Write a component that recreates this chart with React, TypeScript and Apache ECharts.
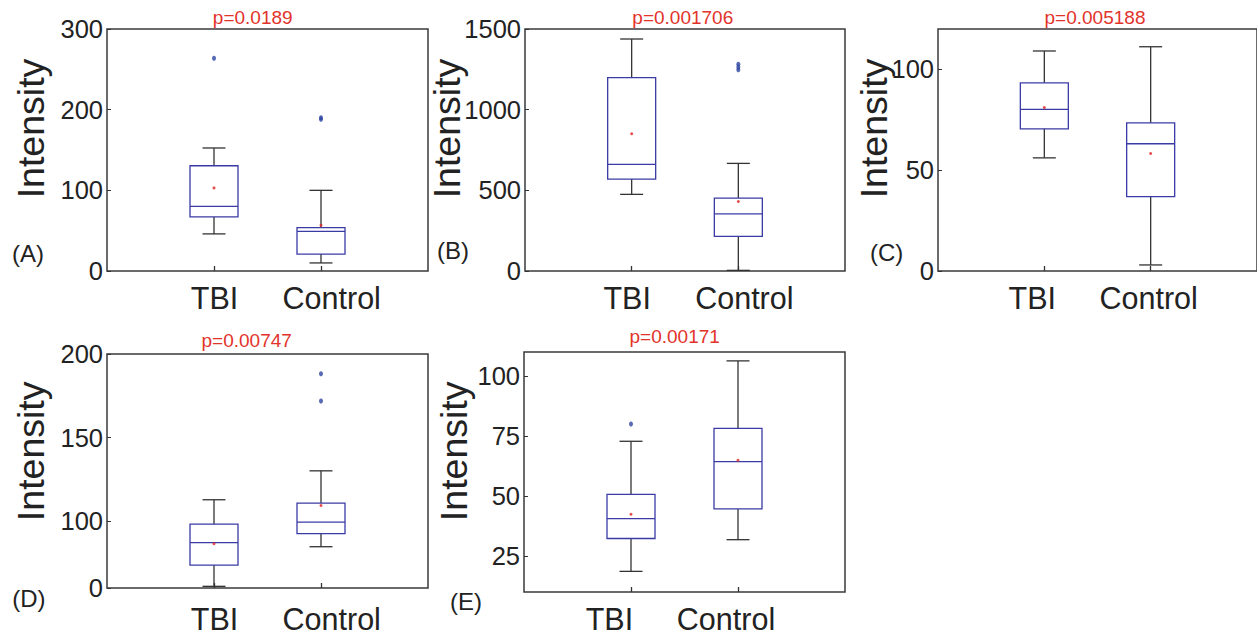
import React, { useEffect, useRef } from "react";
import * as echarts from "echarts";

const categories = ["TBI", "Control"];

// [lower whisker, Q1, median, Q3, upper whisker]
const boxA = [[46, 67, 80, 130.5, 152.5], [10, 21, 49, 53.7, 100]];
const meanA = [103, 56.6];
const outliersA = [["TBI", 263.7], ["Control", 190], ["Control", 188]];
const yTicksA = [0, 100, 200, 300];

const boxB = [[475, 570, 661, 1199, 1438], [4, 214, 354, 452, 667]];
const meanB = [851, 431];
const outliersB = [["Control", 1282], ["Control", 1264], ["Control", 1247]];
const yTicksB = [0, 500, 1000, 1500];

const boxC = [[56.1, 70.5, 80.1, 93.3, 109.1], [3, 36.9, 63.1, 73.5, 111.2]];
const meanC = [81.1, 58.3];
const outliersC: (string | number)[][] = [];
const yTicksC = [0, 50, 100];

const boxD = [[61, 73.7, 87.1, 98.2, 112.8], [84.7, 92.5, 99.4, 110.8, 130.1]];
const meanD = [86.5, 109.4];
const outliersD = [["Control", 188.2], ["Control", 171.9]];
const yTicksD = [60, 100, 150, 200];
const yTickLabelsD = ["0", "100", "150", "200"];

const boxE = [[18.6, 32.3, 40.6, 50.7, 72.8], [31.8, 44.6, 64.3, 78.2, 106.3]];
const meanE = [42.4, 64.9];
const outliersE = [["TBI", 80]];
const yTicksE = [25, 50, 75, 100];

const pValues = ["p=0.0189", "p=0.001706", "p=0.005188", "p=0.00747", "p=0.00171"];
const panelLetters = ["(A)", "(B)", "(C)", "(D)", "(E)"];
const yTitle = "Intensity";

const FONT = "'Liberation Sans', Arial, Helvetica, sans-serif";
const BOX_COLOR = "#3b3ba6";
const WHISKER_COLOR = "#333333";
const OUTLIER_COLOR = "#2d45a0";
const MEAN_COLOR = "#e02424";
const P_COLOR = "#e2332b";

const panels = [
  { box: boxA, mean: meanA, out: outliersA, ticks: yTicksA, labels: yTicksA.map(String), min: 0, max: 300 },
  { box: boxB, mean: meanB, out: outliersB, ticks: yTicksB, labels: yTicksB.map(String), min: 0, max: 1500 },
  { box: boxC, mean: meanC, out: outliersC, ticks: yTicksC, labels: yTicksC.map(String), min: 0, max: 120 },
  { box: boxD, mean: meanD, out: outliersD, ticks: yTicksD, labels: yTickLabelsD, min: 60, max: 200 },
  { box: boxE, mean: meanE, out: outliersE, ticks: yTicksE, labels: yTicksE.map(String), min: 10, max: 110 },
];

const grids = [
  { left: 107, top: 29, width: 321, height: 242 },
  { left: 525, top: 29, width: 320, height: 242 },
  { left: 938, top: 29, width: 320, height: 242 },
  { left: 107, top: 354, width: 321, height: 234 },
  { left: 524, top: 352, width: 321, height: 240 },
];
const xLabelMargins = [11, 11, 11, 15, 11];
// horizontal shift of each category label relative to its tick (px)
const xLabelShift = [[0.5, 10.7], [-4.5, 6], [-12, -2], [0.5, 10.7], [-21.6, -12]];
const pPos = [[252.7, 17], [682.8, 17], [1095, 17], [246.7, 340], [674.7, 336.7]];
const letterPos = [[28, 253], [453, 250], [886.7, 252], [28.8, 598], [466, 601]];
const titlePos = [[30.8, 128.5], [446.8, 128.5], [873.5, 128.5], [30.8, 451.3], [453.5, 451.3]];

function axisCats(i: number) {
  const items = categories.map((c, k) => {
    const d = xLabelShift[i][k];
    const pad = d >= 0 ? [0, 0, 0, 2 * d] : [0, -2 * d, 0, 0];
    return { value: c, textStyle: { padding: pad } };
  });
  return [{ value: "L" }, ...items, { value: "R" }];
}

function renderBox(params: any, api: any) {
  const x = api.value(0);
  const lo = api.coord([x, api.value(1)]);
  const q1 = api.coord([x, api.value(2)]);
  const med = api.coord([x, api.value(3)]);
  const q3 = api.coord([x, api.value(4)]);
  const hi = api.coord([x, api.value(5)]);
  const cx = lo[0];
  const half = 24;
  const cap = 11.5;
  const w = { stroke: WHISKER_COLOR, lineWidth: 1.3 };
  const b = { stroke: BOX_COLOR, lineWidth: 1.3 };
  return {
    type: "group",
    children: [
      { type: "line", shape: { x1: cx, y1: q3[1], x2: cx, y2: hi[1] }, style: w },
      { type: "line", shape: { x1: cx, y1: q1[1], x2: cx, y2: lo[1] }, style: w },
      { type: "line", shape: { x1: cx - cap, y1: hi[1], x2: cx + cap, y2: hi[1] }, style: w },
      { type: "line", shape: { x1: cx - cap, y1: lo[1], x2: cx + cap, y2: lo[1] }, style: w },
      { type: "rect", shape: { x: cx - half, y: q3[1], width: half * 2, height: q1[1] - q3[1] }, style: { ...b, fill: "none" } },
      { type: "line", shape: { x1: cx - half, y1: med[1], x2: cx + half, y2: med[1] }, style: b },
    ],
  };
}

export default function App() {
  const ref = useRef<HTMLDivElement>(null);
  useEffect(() => {
    if (!ref.current) return;
    const chart = echarts.init(ref.current, null, { renderer: "svg" });
    const series: any[] = [];
    panels.forEach((p, i) => {
      series.push({
        type: "custom",
        xAxisIndex: i,
        yAxisIndex: i,
        renderItem: renderBox,
        encode: { x: 0, y: [1, 2, 3, 4, 5] },
        data: p.box.map((row, k) => [categories[k], ...row]),
        clip: false,
      });
      series.push({
        type: "scatter",
        xAxisIndex: i,
        yAxisIndex: i,
        symbol: "circle",
        symbolSize: [4, 5],
        itemStyle: { color: OUTLIER_COLOR },
        data: p.out,
      });
      series.push({
        type: "scatter",
        xAxisIndex: i,
        yAxisIndex: i,
        symbol: "circle",
        symbolSize: 3,
        itemStyle: { color: MEAN_COLOR },
        data: p.mean.map((v, k) => [categories[k], v]),
      });
    });

    const graphic: any[] = [];
    pValues.forEach((t, i) =>
      graphic.push({
        type: "text",
        x: pPos[i][0],
        y: pPos[i][1],
        style: { text: t, font: `19px ${FONT}`, fill: P_COLOR, align: "center", verticalAlign: "middle", textAlign: "center", textVerticalAlign: "middle" },
      })
    );
    panelLetters.forEach((t, i) =>
      graphic.push({
        type: "text",
        x: letterPos[i][0],
        y: letterPos[i][1],
        style: { text: t, font: `24px ${FONT}`, fill: "#222", align: "center", verticalAlign: "middle", textAlign: "center", textVerticalAlign: "middle" },
      })
    );
    titlePos.forEach((pos) =>
      graphic.push({
        type: "text",
        x: pos[0],
        y: pos[1],
        rotation: Math.PI / 2,
        style: { text: yTitle, font: `37.5px ${FONT}`, fill: "#222", align: "center", verticalAlign: "middle", textAlign: "center", textVerticalAlign: "middle" },
      })
    );

    chart.setOption({
      animation: false,
      backgroundColor: "#ffffff",
      textStyle: { fontFamily: FONT },
      grid: grids.map((g) => ({ ...g, show: true, borderColor: "#3a3a3a", borderWidth: 1.5, backgroundColor: "transparent" })),
      xAxis: panels.map((p, i) => ({
        type: "category",
        gridIndex: i,
        data: axisCats(i),
        boundaryGap: false,
        axisLine: { show: false },
        splitLine: { show: false },
        axisTick: { show: true, inside: true, length: 5, interval: (idx: number) => idx === 1 || idx === 2, lineStyle: { color: "#333", width: 1.3 } },
        axisLabel: {
          interval: (idx: number) => idx === 1 || idx === 2,
          fontSize: 30.5,
          color: "#222",
          margin: xLabelMargins[i],
          fontFamily: FONT,
        },
      })),
      yAxis: panels.map((p, i) => ({
        type: "value",
        gridIndex: i,
        min: p.min,
        max: p.max,
        axisLine: { show: false },
        splitLine: { show: false },
        axisTick: { show: true, inside: true, length: 4, customValues: p.ticks, lineStyle: { color: "#333" } },
        axisLabel: {
          customValues: p.ticks,
          formatter: (v: number) => {
            const k = p.ticks.indexOf(v);
            return k >= 0 ? p.labels[k] : "";
          },
          fontSize: 25.5,
          color: "#222",
          margin: 4,
          fontFamily: FONT,
        },
      })),
      series,
      graphic,
    });
    return () => chart.dispose();
  }, []);
  return <div ref={ref} style={{ position: "fixed", left: 0, top: 0, width: 1257, height: 638 }} />;
}
